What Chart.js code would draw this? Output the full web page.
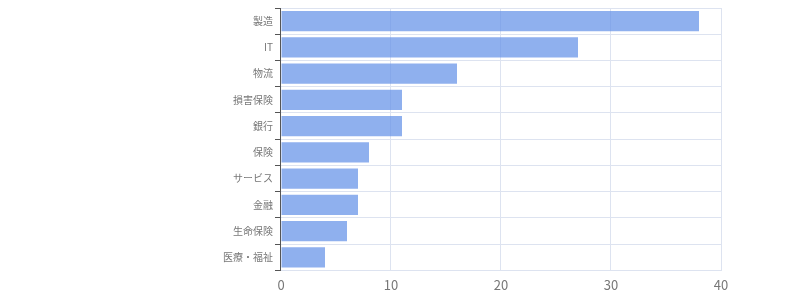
<!DOCTYPE html>
<html lang="ja">
  <head>
    <meta charset="utf-8">
    <title>業種</title>
    <script src="https://cdn.jsdelivr.net/npm/chart.js"></script>
    <style>
      body { margin: 0; }
      #wrap { width: 800px; height: 300px; }
    </style>
  </head>
  <body>
    <div id="wrap"><canvas id="chart"></canvas></div>

    <script type="text/javascript">

    var industries = ["製造", "IT", "物流", "損害保険", "銀行", "保険", "サービス", "金融", "生命保険", "医療・福祉"]
    var counts = [38, 27, 16, 11, 11, 8, 7, 7, 6, 4]
    var xTicks = [0, 10, 20, 30, 40]

    Chart.defaults.font.family = "'Noto Sans CJK JP', 'Noto Sans', sans-serif"
    Chart.defaults.color = '#666'

    var ctx = document.getElementById('chart').getContext('2d');
    var chart = new Chart(ctx, {
        type: 'bar',
        data: {
            labels: industries,
            datasets: [{
                data: counts,
                backgroundColor: 'rgba(100, 145, 232, 0.72)',
                borderWidth: 0,
                barPercentage: 0.9,
                categoryPercentage: 0.86
            }]
        },
        options: {
            indexAxis: 'y',
            responsive: true,
            maintainAspectRatio: false,
            animation: false,
            layout: { padding: { left: 221, right: 79, top: 7, bottom: 0 } },
            plugins: {
                legend: { display: false },
                tooltip: { enabled: false }
            },
            scales: {
                x: {
                    min: 0,
                    max: 40,
                    afterBuildTicks: function(axis) {
                      axis.ticks = xTicks.map(function(v) { return { value: v } })
                    },
                    grid: { color: '#dde3f0', drawTicks: false },
                    border: { color: '#dde3f0' },
                    ticks: { padding: 7, font: { size: 13 }, color: '#777' }
                },
                y: {
                    grid: { color: '#dde3f0', tickColor: '#555', tickLength: 6, offset: true },
                    border: { color: '#555' },
                    ticks: { font: { size: 10 }, color: '#777', padding: 2 }
                }
            }
        }
    });
    </script>
  </body>
</html>
